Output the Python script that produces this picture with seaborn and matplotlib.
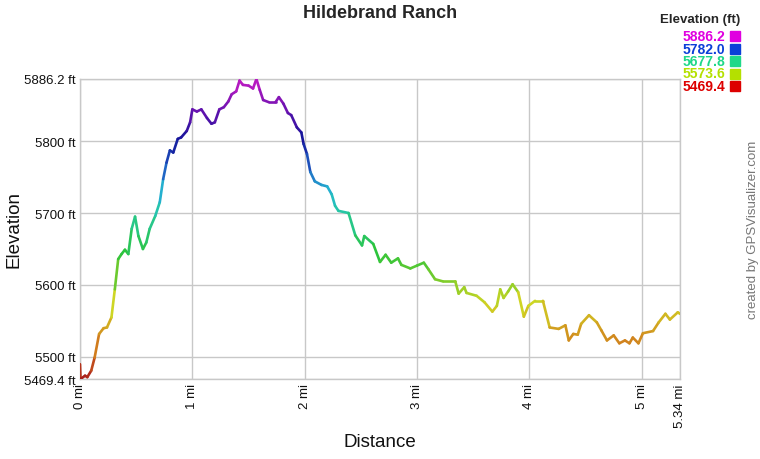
#!/usr/bin/env python3
"""Elevation profile for Hildebrand Ranch, coloured by elevation"""
import numpy as np
import pandas as pd
import seaborn as sns
import matplotlib.pyplot as plt
from matplotlib.collections import LineCollection
from matplotlib.colors import LinearSegmentedColormap, Normalize
from matplotlib.patches import Rectangle

# distance along the track (mi) and elevation (ft)
distance = [0.00, 0.005, 0.045, 0.065, 0.10, 0.13, 0.17, 0.21, 0.24, 0.28,
            0.31, 0.34, 0.37, 0.40, 0.43, 0.46, 0.49, 0.52, 0.56, 0.59,
            0.62, 0.67, 0.71, 0.74, 0.77, 0.80, 0.83, 0.87, 0.90, 0.95,
            0.98, 1.00, 1.04, 1.08, 1.13, 1.17, 1.20, 1.24, 1.28, 1.32,
            1.35, 1.39, 1.42, 1.45, 1.50, 1.54, 1.57, 1.60, 1.63, 1.68,
            1.74, 1.77, 1.81, 1.85, 1.88, 1.93, 1.97, 1.99, 2.02, 2.05,
            2.09, 2.15, 2.20, 2.24, 2.27, 2.30, 2.39, 2.45, 2.51, 2.53,
            2.61, 2.67, 2.72, 2.77, 2.83, 2.86, 2.94, 3.00, 3.06, 3.10,
            3.16, 3.23, 3.34, 3.37, 3.42, 3.44, 3.53, 3.60, 3.67, 3.71,
            3.74, 3.77, 3.81, 3.85, 3.90, 3.95, 3.99, 4.05, 4.12, 4.18,
            4.26, 4.32, 4.35, 4.39, 4.43, 4.46, 4.53, 4.60, 4.64, 4.69,
            4.75, 4.80, 4.85, 4.89, 4.92, 4.97, 5.01, 5.10, 5.15, 5.21,
            5.25, 5.32, 5.34]
elevation = [5490, 5469.4, 5474, 5472, 5481, 5499, 5532, 5540, 5541, 5555,
             5594, 5636, 5643, 5649, 5643, 5678, 5695, 5668, 5650, 5659,
             5678, 5696, 5715, 5747, 5770, 5787, 5784, 5803, 5805, 5814,
             5826, 5844, 5841, 5844, 5832, 5824, 5826, 5844, 5847, 5855,
             5865, 5869, 5884, 5878, 5877, 5873, 5886.2, 5871, 5857, 5854,
             5854, 5861, 5852, 5839, 5836, 5819, 5812, 5796, 5782, 5757,
             5744, 5739, 5737, 5726, 5710, 5703, 5700, 5669, 5655, 5668,
             5657, 5632, 5642, 5631, 5637, 5628, 5623, 5627, 5631, 5622,
             5608, 5605, 5605, 5588, 5597, 5589, 5585, 5576, 5563, 5571,
             5594, 5582, 5591, 5601, 5590, 5556, 5571, 5578, 5578, 5541,
             5539, 5544, 5523, 5532, 5531, 5546, 5558, 5548, 5537, 5523,
             5530, 5519, 5523, 5519, 5527, 5519, 5533, 5536, 5548, 5560,
             5552, 5562, 5560]

y_ticks = [5469.4, 5500, 5600, 5700, 5800, 5886.2]
y_tick_labels = ["5469.4 ft", "5500 ft", "5600 ft", "5700 ft", "5800 ft", "5886.2 ft"]
x_ticks = [0, 1, 2, 3, 4, 5, 5.34]
x_tick_labels = ["0 mi", "1 mi", "2 mi", "3 mi", "4 mi", "5 mi", "5.34 mi"]

legend_values = ["5886.2", "5782.0", "5677.8", "5573.6", "5469.4"]
legend_colors = ["#e000e0", "#0a3fd8", "#1fd889", "#b4e000", "#dd0000"]

df = pd.DataFrame({"distance": distance, "elevation": elevation})

sns.set_theme(style="white")
plt.rcParams["font.family"] = ["Liberation Sans", "DejaVu Sans"]

fig = plt.figure(figsize=(7.6, 4.6), dpi=100)
ax = fig.add_axes([80 / 760, 80 / 460, 600 / 760, 300 / 460])

# rainbow ramp from low (red) to high (magenta) as on the track line
ramp = LinearSegmentedColormap.from_list("elev", [
    (0.00, "#a81c1c"), (0.08, "#d06a1c"), (0.18, "#d2a620"),
    (0.25, "#cfd624"), (0.33, "#7ccc2a"), (0.42, "#2cc43c"),
    (0.55, "#26c8a0"), (0.62, "#24b8d0"), (0.70, "#2060c4"),
    (0.80, "#14149a"), (0.90, "#6a12b0"), (1.00, "#c41cc4"),
])
norm = Normalize(vmin=min(y_ticks), vmax=max(y_ticks))

pts = df[["distance", "elevation"]].to_numpy()
segs = np.stack([pts[:-1], pts[1:]], axis=1)
mid = (df["elevation"].to_numpy()[:-1] + df["elevation"].to_numpy()[1:]) / 2
lc = LineCollection(segs, colors=ramp(norm(mid)), linewidths=1.9,
                    capstyle="round", joinstyle="round", zorder=3)
ax.add_collection(lc)

ax.set_xlim(0, 5.34)
ax.set_ylim(min(y_ticks), max(y_ticks))
ax.set_xticks(x_ticks)
ax.set_xticklabels(x_tick_labels, rotation=90, fontsize=9.5)
ax.set_yticks(y_ticks)
ax.set_yticklabels(y_tick_labels, fontsize=9.5)
ax.tick_params(length=0, pad=3, colors="#111111")
ax.grid(True, color="#c8c8c8", linewidth=1)
for side in ax.spines.values():
    side.set_color("#c8c8c8")
    side.set_linewidth(1)

# axis titles placed where the reference has them
fig.text(380 / 760, 1 - 443 / 460, "Distance", ha="center", va="center",
         fontsize=13.5, color="#111111")
fig.text(14 / 760, 1 - 230 / 460, "Elevation", rotation=90, ha="center",
         va="center", fontsize=13.5, color="#111111")

fig.text(380 / 760, 1 - 13 / 460, "Hildebrand Ranch", ha="center", va="center",
         fontsize=13, fontweight="bold")

# colour key in the top right corner
fig.text(740 / 760, 1 - 20 / 460, "Elevation (ft)", ha="right", va="center",
         fontsize=9.5, fontweight="bold")
for i, (val, col) in enumerate(zip(legend_values, legend_colors)):
    yc = 1 - (37 + i * 12.5) / 460
    fig.text(725 / 760, yc, val, ha="right", va="center", fontsize=10,
             fontweight="bold", color=col)
    fig.patches.append(Rectangle((730 / 760, yc - 5 / 460), 10 / 760, 10 / 460,
                                 transform=fig.transFigure, color=col))

fig.text(753 / 760, 1 - 230 / 460, "created by GPSVisualizer.com", rotation=90,
         ha="center", va="center", fontsize=9.5, color="#777777")

fig.savefig("out.png", dpi=100)
